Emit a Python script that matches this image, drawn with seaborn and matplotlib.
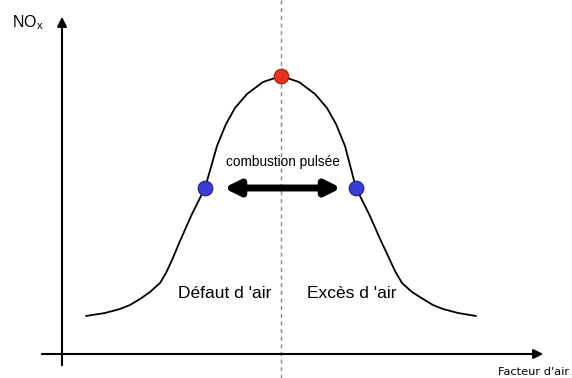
import matplotlib.pyplot as plt
import seaborn as sns
import pandas as pd

# courbe NOx (en pixels)
curve_x = [86, 105, 120, 130, 140, 150, 160, 166, 172, 180, 192, 205, 217, 226, 235,
           247, 263, 281, 299, 315, 327, 336, 345, 356, 369, 381, 389, 395, 402,
           412, 423, 433, 443, 458, 476]
curve_y = [316, 313, 309, 305, 299, 292, 283, 273, 260, 241, 214, 188, 146, 124, 108,
           94, 82, 76, 82, 94, 108, 124, 146, 188, 214, 241, 258, 271, 283,
           292, 299, 305, 309, 313, 316]

peak_x = [281]
peak_y = [76]
pulse_x = [205, 356]
pulse_y = [188, 188]

df = pd.DataFrame({"x": curve_x, "y": curve_y})

sns.set_style("white")
plt.rcParams['font.family'] = ['Liberation Sans', 'DejaVu Sans']
plt.rcParams['text.color'] = 'black'

fig = plt.figure(figsize=(5.72, 3.78), dpi=100)
ax = fig.add_axes([0, 0, 1, 1])
ax.set_xlim(0, 572)
ax.set_ylim(378, 0)
ax.axis("off")

# ligne pointillée verticale
ax.plot([281, 281], [0, 378], color="#888888", lw=1, ls=(0, (3, 2.5)), zorder=1)

# axes avec flèches
ax.annotate("", xy=(62, 14), xytext=(62, 368),
            arrowprops=dict(arrowstyle="-|>", color="black", lw=1.5, mutation_scale=14))
ax.annotate("", xy=(546, 354), xytext=(39, 354),
            arrowprops=dict(arrowstyle="-|>", color="black", lw=1.5, mutation_scale=14))

sns.lineplot(data=df, x="x", y="y", color="black", lw=1.3, sort=False, ax=ax, zorder=2)
sns.scatterplot(x=peak_x, y=peak_y, color="#e8321e", edgecolor="#a02010", s=110, ax=ax, zorder=4)
sns.scatterplot(x=pulse_x, y=pulse_y, color="#3b3bd8", edgecolor="#202080", s=110, ax=ax, zorder=4)

# flèche double
ax.annotate("", xy=(221, 188), xytext=(344, 188),
            arrowprops=dict(arrowstyle="<|-|>", color="black", lw=5, mutation_scale=22))

ax.text(283, 162, "combustion pulsée", ha="center", va="center", fontsize=9.8)
ax.text(225, 294, "Défaut d 'air", ha="center", va="center", fontsize=12.5)
ax.text(352, 294, "Excès d 'air", ha="center", va="center", fontsize=12.5)
ax.text(12, 23, r"NO$_\mathregular{x}$", ha="left", va="center", fontsize=11.5)
ax.text(569, 372, "Facteur d'air", ha="right", va="center", fontsize=8.2,
        family=['DejaVu Sans'])

fig.savefig("out.png", dpi=100)
